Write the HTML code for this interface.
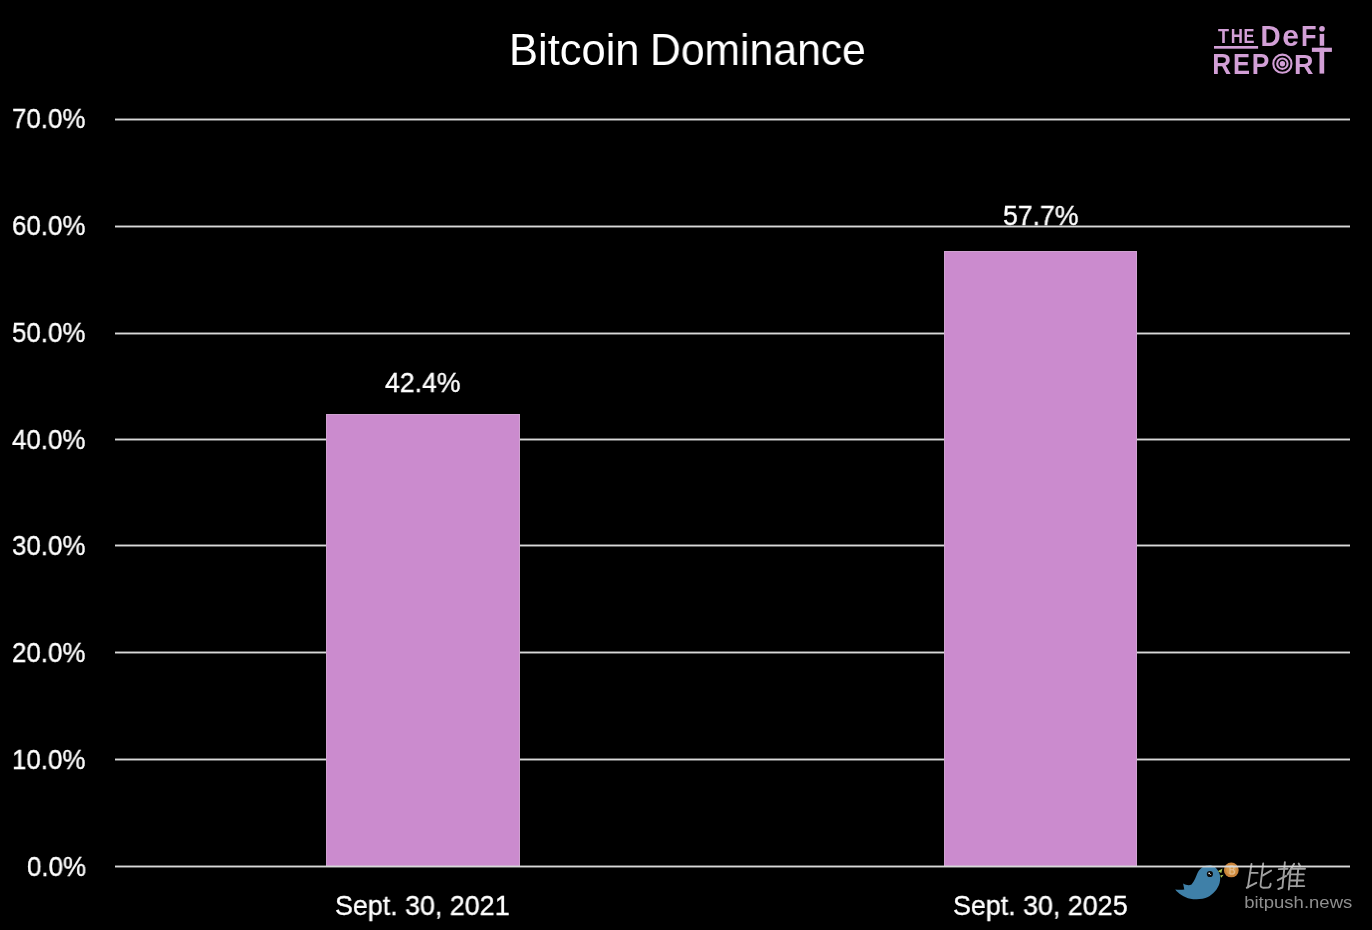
<!DOCTYPE html>
<html><head><meta charset="utf-8">
<style>
html,body{margin:0;padding:0;background:#000;}
body{width:1372px;height:930px;position:relative;overflow:hidden;font-family:"Liberation Sans",sans-serif;color:#fff;}
.g{position:absolute;left:115px;width:1235px;height:3px;background:linear-gradient(rgba(217,217,217,.45) 0,rgba(217,217,217,.45) 33.3%,#d9d9d9 33.3%,#d9d9d9 66.6%,rgba(217,217,217,.45) 66.6%);}
.bar{position:absolute;box-sizing:border-box;background:#cb8bce;border:1px solid #d0a2d1;border-bottom:0;}
.t{position:absolute;white-space:nowrap;line-height:1;transform-origin:0 0;}
.lab{font-size:27px;-webkit-text-stroke:0.35px #fff;}
#logo,#wm{position:absolute;left:0;top:0;}
body>*{will-change:transform;}
</style></head><body>
<div class="t" style="left:509px;top:29px;font-size:43.5px">Bitcoin</div>
<div class="t" style="left:650.1px;top:29px;font-size:43.5px;transform:scaleX(0.981)">Dominance</div>

<div class="g" style="top:118px"></div>
<div class="g" style="top:225px"></div>
<div class="g" style="top:332px"></div>
<div class="g" style="top:438px"></div>
<div class="g" style="top:544px"></div>
<div class="g" style="top:651px"></div>
<div class="g" style="top:758px"></div>

<div class="t lab" style="left:12px;top:106px;transform:scaleX(0.96)">70.0%</div>
<div class="t lab" style="left:12px;top:213px;transform:scaleX(0.96)">60.0%</div>
<div class="t lab" style="left:12px;top:320px;transform:scaleX(0.96)">50.0%</div>
<div class="t lab" style="left:12px;top:427px;transform:scaleX(0.96)">40.0%</div>
<div class="t lab" style="left:12px;top:533px;transform:scaleX(0.96)">30.0%</div>
<div class="t lab" style="left:12px;top:640px;transform:scaleX(0.96)">20.0%</div>
<div class="t lab" style="left:12px;top:747px;transform:scaleX(0.96)">10.0%</div>
<div class="t lab" style="left:27px;top:854px;transform:scaleX(0.96)">0.0%</div>

<div class="bar" style="left:326px;top:414px;width:194px;height:452px"></div>
<div class="bar" style="left:944px;top:251px;width:193px;height:615px"></div>


<div class="t lab" style="left:385px;top:370px;transform:scaleX(0.987)">42.4%</div>
<div class="t lab" style="left:1003px;top:203px;transform:scaleX(0.987)">57.7%</div>

<div class="t lab" style="left:335px;top:893px;transform:scaleX(0.994)">Sept. 30, 2021</div>
<div class="t lab" style="left:953px;top:893px;transform:scaleX(0.994)">Sept. 30, 2025</div>

<!-- LOGO -->
<svg id="logo" width="1372" height="930" viewBox="0 0 1372 930">
 <g fill="#d29fd6" font-family="Liberation Sans" font-weight="bold">
<text transform="translate(1218.00 42.80) scale(0.924 1)" font-size="19.48">T</text>
<text transform="translate(1230.87 42.80) scale(0.865 1)" font-size="19.48">H</text>
<text transform="translate(1243.60 42.80) scale(0.842 1)" font-size="19.48">E</text>
<text transform="translate(1260.43 45.80) scale(0.931 1)" font-size="29.94">D</text>
<text transform="translate(1282.33 45.80) scale(1.003 1)" font-size="29.94">e</text>
<text transform="translate(1300.90 45.80) scale(0.849 1)" font-size="29.94">F</text>
<text transform="translate(1212.35 73.70) scale(0.900 1)" font-size="29.07">R</text>
<text transform="translate(1233.09 73.70) scale(0.877 1)" font-size="29.07">E</text>
<text transform="translate(1251.64 73.70) scale(0.906 1)" font-size="29.07">P</text>
<text transform="translate(1294.00 73.60) scale(0.946 1)" font-size="28.49">R</text>
  <rect x="1319.7" y="33.9" width="4.5" height="11.9"/>
  <circle cx="1322" cy="28.7" r="2.8"/>
  <rect x="1214" y="46" width="44.1" height="2.7"/>
  <rect x="1311.9" y="47.7" width="20" height="4.2"/>
  <rect x="1319.5" y="47.7" width="4.7" height="25.9"/>
  <circle cx="1282.4" cy="63.7" r="2.7"/>
 </g>
 <g fill="none" stroke="#d29fd6">
  <circle cx="1282.4" cy="63.7" r="9.1" stroke-width="2.1"/>
  <circle cx="1282.4" cy="63.7" r="5.2" stroke-width="2.1"/>
 </g>
</svg>

<!-- WATERMARK -->
<svg id="wm" width="1372" height="930" viewBox="0 0 1372 930">
 <path fill="#3f80a8" d="M1210.8 865.2 C1204 865 1199.5 868.5 1197.5 873 C1195.8 877 1194.5 881 1191.5 884.5 C1189 886 1186 885 1183.1 883.6 L1184.3 889.4 C1181 889.8 1178 889.6 1175.2 889.4 C1178 893 1184 897.5 1190.4 898.7 C1195 899.6 1203 899.6 1207.9 897 C1213 894.5 1218 889 1219.6 883 C1220.5 879.5 1220.5 875 1219 872.5 C1217.8 869.5 1215 866 1210.8 865.2 Z"/>
 <circle cx="1209.9" cy="874" r="3.1" fill="#0a0a0a"/>
 <circle cx="1209.2" cy="873.3" r="0.9" fill="#e8e8e8"/>
 <circle cx="1210.6" cy="874.5" r="0.6" fill="#cfcfcf"/>
 <path fill="#a9c455" d="M1217.8 871.3 L1222.5 868.4 L1221.3 873 Z M1220.1 875.4 L1223.6 874.8 L1221.3 877.7 Z"/>
 <circle cx="1231.3" cy="869.9" r="7.4" fill="#c9833a"/>
 <circle cx="1231.3" cy="869.9" r="5.2" fill="#d69a4c"/>
 <path fill="none" stroke="#e8c8a8" stroke-width="1.1" opacity="0.8" d="M1230 866 L1230 874 M1230 866 H1232.5 Q1234 866 1234 868 Q1234 869.8 1232.3 869.8 H1230 M1232.3 869.8 Q1234.4 869.8 1234.4 871.9 Q1234.4 874 1232.3 874 H1230"/>
 <g fill="none" stroke="#a0a0a0" stroke-width="1.9" stroke-linecap="round" stroke-linejoin="round">
  <path d="M1251.5 863.9 L1247.9 887.5"/>
  <path d="M1250.5 872.9 L1257.6 872.9"/>
  <path d="M1246.8 887.7 L1256.3 882.8"/>
  <path d="M1263.2 863.4 L1260.6 884.5 Q1260.2 887.8 1263.5 887.7 L1268.2 887.5 Q1270.3 887.3 1270.6 883.8"/>
  <path d="M1263 875.4 L1271.1 870.6"/>
  <path d="M1278.8 869.1 L1287.5 868.8"/>
  <path d="M1284.9 862.1 L1282.4 887.5 L1278.3 889"/>
  <path d="M1277.8 880.2 L1286.2 875.9"/>
  <path d="M1294.1 863.7 L1287.6 874.4"/>
  <path d="M1290.5 870.3 L1288.8 889.5"/>
  <path d="M1298.7 863.5 L1300.2 866.5"/>
  <path d="M1298.2 868.8 L1296.6 886.4"/>
  <path d="M1291 868.8 L1305 868.8"/>
  <path d="M1291.5 874.4 L1303.8 874.4"/>
  <path d="M1291 880.5 L1303.3 880.5"/>
  <path d="M1290.5 886.1 L1304.3 886.1"/>
 </g>
 <text transform="translate(1244.2 908.4) scale(1.09 1)" font-family="Liberation Sans" font-size="17" fill="#8f8f8f">bitpush.news</text>
</svg>
<div class="g" style="top:865px"></div>
</body></html>
